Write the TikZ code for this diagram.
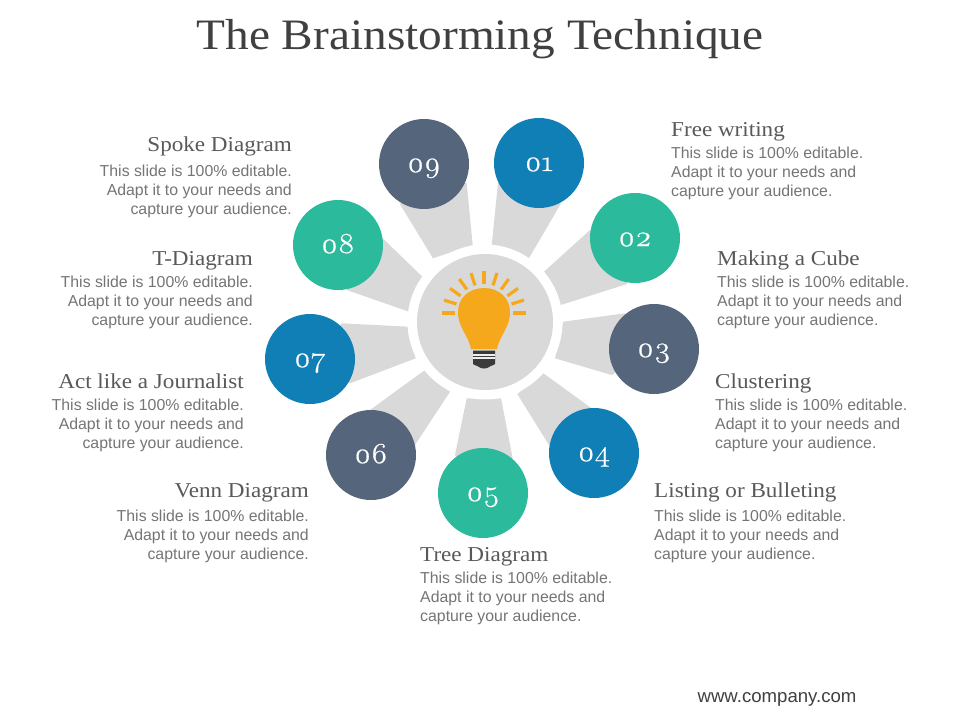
\documentclass[tikz,border=0pt]{standalone}
\usepackage{fontspec}
\setmainfont{Liberation Sans}
\newfontfamily\headfont[FakeStretch=1.09]{Liberation Serif}
\newfontfamily\numfont[Numbers=OldStyle,FakeStretch=1.1,FakeBold=0.7]{Latin Modern Roman}
\definecolor{cblue}{HTML}{0F7FB5}
\definecolor{cteal}{HTML}{2BBB9C}
\definecolor{cslate}{HTML}{55667C}
\definecolor{cgrey}{HTML}{D9D9D9}
\definecolor{cbulb}{HTML}{F6A81C}
\definecolor{cdark}{HTML}{3A3A3A}
\definecolor{ctitle}{HTML}{404040}
\definecolor{chead}{HTML}{595959}
\definecolor{cbody}{HTML}{757575}
\tikzset{
  x=1pt,y=-1pt,
  disc/.style={circle,minimum size=90pt,inner sep=0pt,text=white,font=\numfont\fontsize{29}{29}\selectfont},
  headL/.style={anchor=base west,inner sep=0pt,text=chead,font=\headfont\fontsize{21.2}{24}\selectfont},
  headR/.style={anchor=base east,inner sep=0pt,text=chead,font=\headfont\fontsize{21.2}{24}\selectfont},
  bodyL/.style={anchor=north west,inner sep=0pt,align=left,text=cbody,font=\fontsize{15.85}{19}\selectfont},
  bodyR/.style={anchor=north east,inner sep=0pt,align=right,text=cbody,font=\fontsize{15.85}{19}\selectfont},
  ray/.style={draw=cbulb,line width=3.2pt},
}
\newcommand{\bodytxt}{This slide is 100\% editable.\\Adapt it to your needs and\\capture your audience.}
\begin{document}
\begin{tikzpicture}
\useasboundingbox (0,0) rectangle (960,720);
\fill[white] (0,0) rectangle (960,720);
\coordinate (hub) at (485,322);
% wedges: inner a, outer a, circle centre, outer b, inner b
\foreach \cx/\cy/\iax/\iay/\oax/\oay/\obx/\oby/\ibx/\iby in {
  539/163/491.7/245/498/183/560.7/204/529/258,
  635/238/544/271.7/590/230/627/284/560.7/305,
  654/349/563.3/321.7/625/313.3/611.7/375/555/358.3,
  594/453/543.3/373.3/591.7/408.3/550/446.7/517.3/394,
  483/493/501/398.3/512.7/458.3/455/455/466.7/398.3,
  371/455/450/391.7/415/445/370/410/425/370,
  310/359/415.7/358.3/350/383.3/341.7/323.3/408.3/326.7,
  338/245/409/311.7/346.7/290/382.7/238.3/422.3/276.7,
  424/164/433/258.3/400/204.3/466.7/183.3/472.7/245}{
  \fill[cgrey] (\iax,\iay) -- (\oax,\oay) -- (\cx,\cy) -- (\obx,\oby) -- (\ibx,\iby) -- cycle;
}
\node[circle,fill=white,minimum size=155pt,inner sep=0pt] (ring) at (hub) {};
\node[circle,fill=cgrey,minimum size=136pt,inner sep=0pt] (hubdisc) at (hub) {};
\foreach \n/\cx/\cy/\col/\lab in {1/539/163/cblue/01,2/635/238/cteal/02,3/654/349/cslate/03,4/594/453/cblue/04,5/483/493/cteal/05,6/371/455/cslate/06,7/310/359/cblue/07,8/338/245/cteal/08,9/424/164/cslate/09}{
  \node[disc,fill=\col] (c\n) at (\cx,\cy) {\raisebox{-8pt}[0pt][0pt]{\lab}};
}
% bulb
\foreach \a in {0,18,...,180}{\draw[ray] (484,313) ++(\a:29 and -29) -- ++(\a:13 and -13);}
\fill[cbulb] (484,288) .. controls (469,288) and (458,298) .. (458,312) .. controls (458,328) and (468,334) .. (471,349) -- (497,349) .. controls (500,334) and (510,328) .. (510,312) .. controls (510,298) and (499,288) .. (484,288) -- cycle;
\fill[cdark] (473,350.5) -- (495,350.5) -- (495,364) .. controls (494,365) and (490,366) .. (489,367) .. controls (487,369) and (481,369) .. (479,367) .. controls (478,366) and (474,365) .. (473,364) -- cycle;
\fill[white!92!cdark] (473,353.5) rectangle (495,355.5);
\fill[white!92!cdark] (473,357.2) rectangle (495,359.2);
% title
\node[inner sep=0pt,text=ctitle,font=\headfont\fontsize{43.4}{50}\selectfont] (title) at (480,39) {The Brainstorming Technique};
% labels
\node[headL] (h1) at (671,136) {Free writing};
\node[bodyL] (b1) at (671,147) {\bodytxt};
\node[headL] (h2) at (717,265) {Making a Cube};
\node[bodyL] (b2) at (717,276) {\bodytxt};
\node[headL] (h3) at (715,388) {Clustering};
\node[bodyL] (b3) at (715,399) {\bodytxt};
\node[headL] (h4) at (654,497) {Listing or Bulleting};
\node[bodyL] (b4) at (654,510) {\bodytxt};
\node[headL] (h5) at (420,561) {Tree Diagram};
\node[bodyL] (b5) at (420,572) {\bodytxt};
\node[headR] (h6) at (309,497) {Venn Diagram};
\node[bodyR] (b6) at (309,510) {\bodytxt};
\node[headR] (h7) at (244,388) {Act like a Journalist};
\node[bodyR] (b7) at (244,399) {\bodytxt};
\node[headR] (h8) at (253,265) {T-Diagram};
\node[bodyR] (b8) at (253,276) {\bodytxt};
\node[headR] (h9) at (292,151) {Spoke Diagram};
\node[bodyR] (b9) at (292,165) {\bodytxt};
\node[inner sep=0pt,text=ctitle,font=\fontsize{18.6}{20}\selectfont] (web) at (777,699) {www.company.com};
\end{tikzpicture}
\end{document}
